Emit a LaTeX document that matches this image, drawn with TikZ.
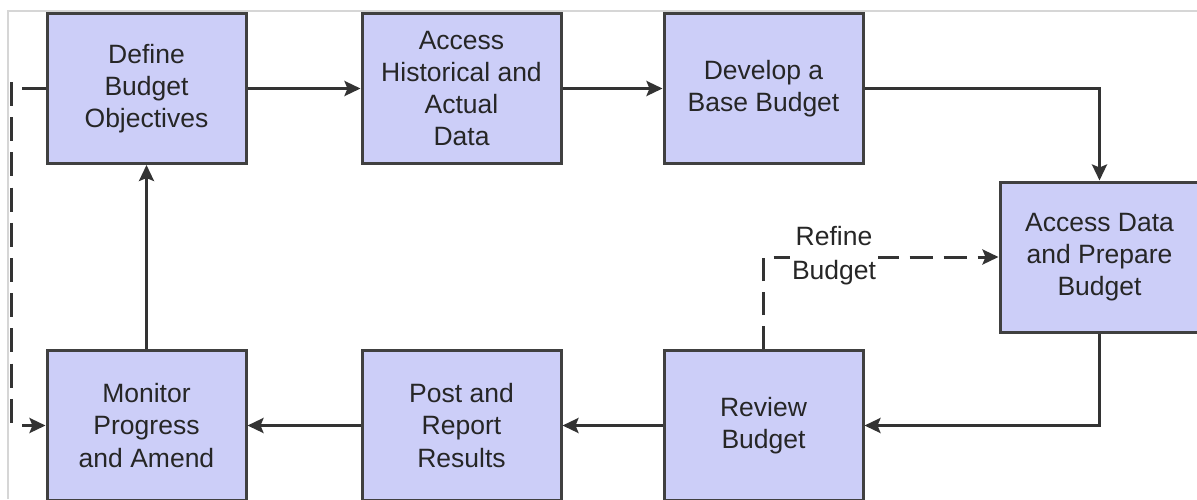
\documentclass[tikz,border=0pt]{standalone}
\usepackage{fontspec}
\setmainfont{Liberation Sans}
\usetikzlibrary{arrows.meta}
\definecolor{boxfill}{RGB}{204,206,248}
\definecolor{boxline}{RGB}{64,64,64}
\definecolor{linec}{RGB}{51,51,51}
\definecolor{framec}{RGB}{214,214,214}
\definecolor{textc}{RGB}{38,38,38}
\begin{document}
\begin{tikzpicture}[x=1pt,y=-1pt,
  stepbox/.style={draw=boxline, line width=3pt, fill=boxfill,
    minimum width=199pt, minimum height=150pt, inner sep=0pt,
    align=center, text=textc, font=\fontsize{26.5}{32.3}\selectfont},
  plainline/.style={draw=linec, line width=3pt},
  flow/.style={plainline, -{Stealth[length=16pt,width=15pt,inset=3pt]}},
  dashline/.style={draw=linec, line width=3pt, dash pattern=on 23pt off 11pt},
  lbl/.style={fill=white, inner sep=2pt, align=center, text=textc,
    font=\fontsize{26.5}{34}\selectfont}]
\useasboundingbox (0,0) rectangle (1197,499);
\clip (0,0) rectangle (1197,499);
\fill[white] (0,0) rectangle (1197,499);
% frame
\draw[framec, line width=2pt] (7.5,499) -- (7.5,11) -- (1197,11);
% boxes
\node[stepbox] (define) at (146.5,88.5) {Define\\Budget\\Objectives};
\node[stepbox] (hist) at (461.5,88.5) {Access\\Historical and\\Actual\\Data};
\node[stepbox] (base) at (763.5,88.5) {Develop a\\Base Budget};
\node[stepbox] (prep) at (1099.5,257) {Access Data\\and Prepare\\Budget};
\node[stepbox] (monitor) at (146.5,425.5) {Monitor\\Progress\\and Amend};
\node[stepbox] (post) at (461.5,425.5) {Post and\\Report\\Results};
\node[stepbox] (review) at (763.5,425.5) {Review\\Budget};
% connectors
\draw[flow] (define) -- (hist);
\draw[flow] (hist) -- (base);
\draw[flow] (base.east) -| (prep.north);
\draw[flow] (prep.south) |- (review.east);
\draw[flow] (review) -- (post);
\draw[flow] (post) -- (monitor);
\draw[flow] (monitor) -- (define);
% left entry and dashed return
\coordinate (entry) at (22,88.5);
\draw[plainline] (entry) -- (define.west);
\coordinate (dtop) at (11,82);
\coordinate (dbot) at (11,423);
\draw[dashline, dash pattern=on 24pt off 11.2pt] (dtop) -- (dbot);
\coordinate (mentry) at (22,425.5);
\draw[flow] (mentry) -- (monitor.west);
% refine loop
\draw[dashline, -{Stealth[length=16pt,width=15pt,inset=3pt]}] (review.north) |- (prep.west);
\node[lbl] (refine) at (834,256) {Refine\\Budget};
\end{tikzpicture}
\end{document}
